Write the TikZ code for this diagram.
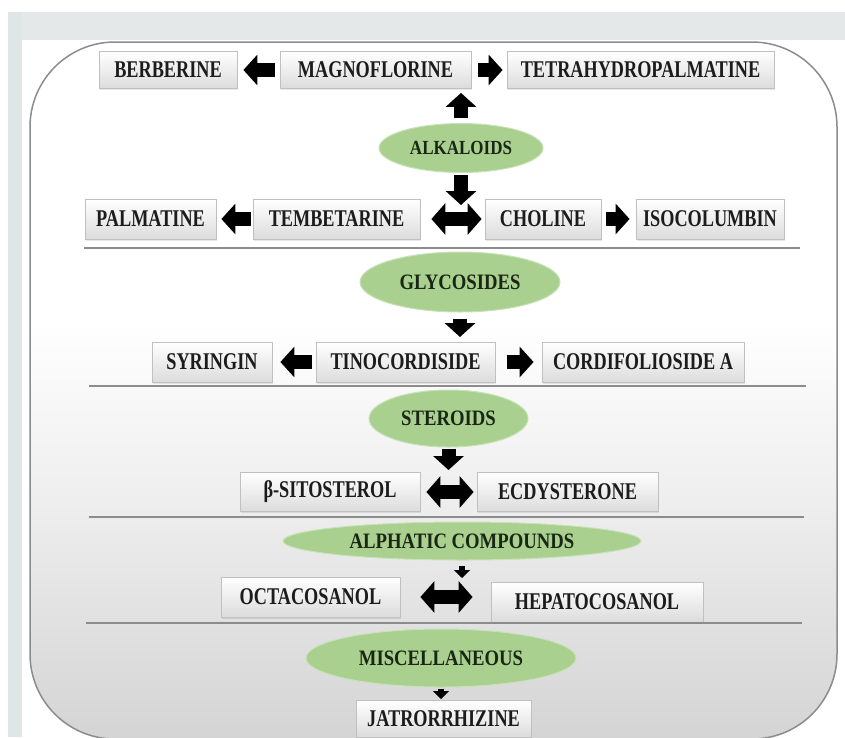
\documentclass[tikz,border=0pt]{standalone}
\usepackage{fontspec}
\newfontfamily\labfont{Liberation Serif}[FakeStretch=0.76]
\newfontfamily\ellfont{Liberation Serif}[FakeStretch=0.85]
\usetikzlibrary{arrows.meta,shadows,shapes.geometric}
\definecolor{boxedge}{RGB}{192,192,192}
\definecolor{boxbot}{RGB}{220,220,220}
\definecolor{leaf}{RGB}{169,208,142}
\definecolor{leafedge}{RGB}{200,226,184}
\definecolor{ink}{RGB}{28,28,28}
\definecolor{leafink}{RGB}{26,38,22}
\definecolor{panelbot}{RGB}{212,212,212}
\definecolor{panelmid}{RGB}{238,238,238}
\definecolor{frame}{RGB}{140,140,140}
\definecolor{band}{RGB}{228,232,233}
\definecolor{strip}{RGB}{222,231,229}
\definecolor{rule}{RGB}{140,140,140}
\pgfdeclareverticalshading{panelshade}{100bp}{color(0bp)=(panelbot); color(25bp)=(panelbot); color(42bp)=(panelmid); color(55bp)=(white); color(100bp)=(white)}
\tikzset{
  cbox/.style={rectangle, draw=boxedge, line width=0.8pt, top color=white, bottom color=boxbot,
    inner sep=0pt, text=ink, font=\labfont\bfseries\fontsize{24}{26}\selectfont,
    drop shadow={opacity=0.18, shadow xshift=1pt, shadow yshift=-1.5pt}},
  cls/.style={ellipse, fill=leaf, draw=leafedge, line width=1pt, inner sep=0pt, text=leafink,
    font=\ellfont\bfseries\fontsize{22}{24}\selectfont},
  fat/.style={draw=black, line width=14pt, -{Triangle[length=14pt 0 0, width=30pt 0]}},
  thin/.style={draw=black, line width=6pt, -{Triangle[length=8pt 0 0, width=16pt 0]}},
  dbl/.style={draw=black, line width=14pt, {Triangle[length=14pt 0 0, width=31pt 0]}-{Triangle[length=14pt 0 0, width=31pt 0]}},
  sep/.style={draw=rule, line width=2.5pt}
}
\begin{document}
\begin{tikzpicture}[x=1pt,y=-1pt]
\useasboundingbox (0,0) rectangle (845,737);
\fill[white] (0,0) rectangle (845,737);
\fill[band] (8,12) rectangle (845,40);
\fill[strip] (8,12) rectangle (22,737);
\path[draw=frame, line width=1.5pt, rounded corners=85pt, shading=panelshade] (30,42) rectangle (837,739);

% row 1
\node[cbox, minimum width=138pt, minimum height=37pt] (ber) at (168,70) {BERBERINE};
\node[cbox, minimum width=191pt, minimum height=37pt] (mag) at (375.5,70) {MAGNOFLORINE};
\node[cbox, minimum width=267pt, minimum height=37pt] (tet) at (640.5,70) {TETRAHYDROPALMATINE};
\node[cls, minimum width=164pt, minimum height=49pt, font=\ellfont\bfseries\fontsize{20}{22}\selectfont] (alk) at (461,148) {ALKALOIDS};
% row 2
\node[cbox, minimum width=131pt, minimum height=40pt] (pal) at (150.5,219) {PALMATINE};
\node[cbox, minimum width=167pt, minimum height=40pt] (tem) at (336.5,219) {TEMBETARINE};
\node[cbox, minimum width=116pt, minimum height=40pt] (cho) at (543,219) {CHOLINE};
\node[cbox, minimum width=148pt, minimum height=40pt] (iso) at (710,219) {ISOCOLUMBIN};
\draw[sep] (84,248) -- (800,248);
\node[cls, minimum width=200pt, minimum height=60pt] (gly) at (460,282) {GLYCOSIDES};
% row 3
\node[cbox, minimum width=120pt, minimum height=40pt] (syr) at (212,362) {SYRINGIN};
\node[cbox, minimum width=179pt, minimum height=40pt] (tin) at (405.5,362) {TINOCORDISIDE};
\node[cbox, minimum width=202pt, minimum height=40pt] (cor) at (643,362) {CORDIFOLIOSIDE A};
\draw[sep] (89,386) -- (806,386);
\node[cls, minimum width=159pt, minimum height=57pt] (ste) at (448.5,418.5) {STEROIDS};
% row 4
\node[cbox, minimum width=180pt, minimum height=39pt] (sit) at (330,492) {β-SITOSTEROL};
\node[cbox, minimum width=181pt, minimum height=39pt] (ecd) at (567.5,492) {ECDYSTERONE};
\draw[sep] (89,517) -- (804,517);
\node[cls, minimum width=358pt, minimum height=38pt] (alp) at (462,541) {ALPHATIC COMPOUNDS};
% row 5
\node[cbox, minimum width=179pt, minimum height=40pt] (oct) at (310.5,597) {OCTACOSANOL};
\node[cbox, minimum width=212pt, minimum height=40pt] (hep) at (597,602) {HEPATOCOSANOL};
\draw[sep] (86,623) -- (802,623);
\node[cls, minimum width=270pt, minimum height=58pt] (mis) at (441,658) {MISCELLANEOUS};
% row 6
\node[cbox, minimum width=175pt, minimum height=37pt] (jat) at (443.5,719) {JATRORRHIZINE};

% tip coordinates
\coordinate (t2) at (460,205);
\coordinate (t3) at (459,337);
\coordinate (t4) at (451,470);
\coordinate (t5) at (450,578);
\coordinate (t6) at (451,699);

% connectors
\draw[fat, shorten <=5pt, shorten >=6pt] (mag.west) -- (ber.east);
\draw[fat, shorten <=7pt, shorten >=4pt] (mag.east) -- (tet.west);
\draw[fat, shorten <=5pt, shorten >=4pt] (alk.north) -- (alk.north |- mag.south);
\draw[fat, shorten <=2pt] (alk.south) -- (alk.south |- t2);
\draw[fat, shorten <=2pt, shorten >=5pt] (tem.west) -- (pal.east);
\draw[dbl, shorten <=11pt, shorten >=3pt] (tem.east) -- (cho.west);
\draw[fat, shorten <=5pt, shorten >=6pt] (cho.east) -- (iso.west);
\draw[fat, shorten <=6pt] (gly.south) -- (gly.south |- t3);
\draw[fat, shorten <=4pt, shorten >=8pt] (tin.west) -- (syr.east);
\draw[fat, shorten <=12pt, shorten >=8pt] (tin.east) -- (cor.west);
\draw[fat, shorten <=1pt] (ste.south) -- (ste.south |- t4);
\draw[dbl, shorten <=6pt, shorten >=3pt] (sit.east) -- (ecd.west);
\draw[thin, shorten <=5pt] (alp.south) -- (alp.south |- t5);
\draw[dbl, shorten <=20pt, shorten >=18pt] (oct.east) -- (oct.east -| hep.west);
\draw[thin, shorten <=1pt] (mis.south) -- (mis.south |- t6);
\end{tikzpicture}
\end{document}
